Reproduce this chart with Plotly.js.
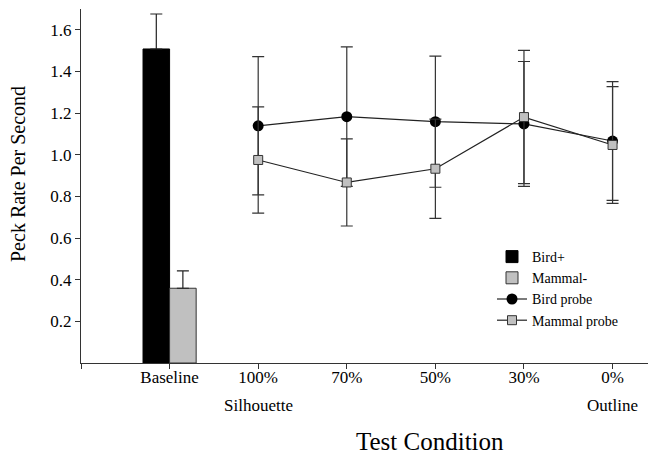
<!DOCTYPE html>
<html>
<head>
<meta charset="utf-8">
<script src="https://cdn.plot.ly/plotly-3.0.1.min.js"></script>
<style>html,body{margin:0;padding:0;background:#fff;}#chart{width:648px;height:454px;}</style>
</head>
<body>
<div id="chart"></div>
<script>
// Data
const categories = ["Baseline", "100%", "70%", "50%", "30%", "0%"];
const subLabels = {"100%": "Silhouette", "0%": "Outline"};

const baselineCategory = "Baseline";
const birdPlusValue = [1.508];
const birdPlusErr = [0.168];
const mammalMinusValue = [0.359];
const mammalMinusErr = [0.083];

const probeCategories = ["100%", "70%", "50%", "30%", "0%"];
const birdProbe = [1.139, 1.183, 1.159, 1.148, 1.066];
const birdProbeErr = [0.332, 0.335, 0.315, 0.300, 0.285];
const mammalProbe = [0.975, 0.867, 0.933, 1.181, 1.047];
const mammalProbeErr = [0.255, 0.209, 0.238, 0.320, 0.280];

const yTicks = [0.2, 0.4, 0.6, 0.8, 1.0, 1.2, 1.4, 1.6];

const pos = c => categories.indexOf(c);
const font = '"Liberation Serif", "Times New Roman", serif';

const traces = [
  {
    type: "bar", name: "Bird+", x: [pos(baselineCategory)], y: birdPlusValue,
    width: 0.3, offset: -0.3,
    marker: {color: "#000000", line: {color: "#000000", width: 1}},
    error_y: {type: "data", array: birdPlusErr, symmetric: false, arrayminus: [0], color: "#222", thickness: 1.2, width: 6}
  },
  {
    type: "bar", name: "Mammal-", x: [pos(baselineCategory)], y: mammalMinusValue,
    width: 0.3, offset: 0,
    marker: {color: "#c0c0c0", line: {color: "#333333", width: 1}},
    error_y: {type: "data", array: mammalMinusErr, symmetric: false, arrayminus: [0], color: "#222", thickness: 1.2, width: 6}
  },
  {
    type: "scatter", mode: "lines+markers", name: "Bird probe",
    x: probeCategories.map(pos), y: birdProbe,
    line: {color: "#222", width: 1.2},
    marker: {symbol: "circle", size: 11, color: "#000"},
    error_y: {type: "data", array: birdProbeErr, color: "#333", thickness: 1.2, width: 6}
  },
  {
    type: "scatter", mode: "lines+markers", name: "Mammal probe",
    x: probeCategories.map(pos), y: mammalProbe,
    line: {color: "#222", width: 1.2},
    marker: {symbol: "square", size: 9, color: "#c0c0c0", line: {color: "#333", width: 1}},
    error_y: {type: "data", array: mammalProbeErr, color: "#333", thickness: 1.2, width: 6}
  }
];

const tickvals = [-1].concat(categories.map((c, i) => i));
const ticktext = [""].concat(categories);

const L = 81, T = 9, W = 567, H = 354;

const annotations = Object.keys(subLabels).map(c => ({
  x: pos(c), y: 0, xref: "x", yref: "y", text: subLabels[c], showarrow: false,
  xanchor: "center", yanchor: "middle",
  yshift: -42, font: {family: font, size: 17, color: "#000"}
}));
annotations.push({
  x: (430 - L) / W, xref: "paper", y: (H + T - 441) / H, yref: "paper",
  xanchor: "center", yanchor: "middle",
  text: "Test Condition", showarrow: false,
  font: {family: font, size: 25, color: "#000"}
});
annotations.push({
  x: (18 - L) / W, xref: "paper", y: (H + T - 174) / H, yref: "paper",
  xanchor: "center", yanchor: "middle",
  text: "Peck Rate Per Second", showarrow: false, textangle: -90,
  font: {family: font, size: 20, color: "#000"}
});

const layout = {
  width: 648, height: 454,
  margin: {l: L, r: 0, t: T, b: 454 - T - H},
  paper_bgcolor: "#fff", plot_bgcolor: "#fff",
  font: {family: font, size: 17, color: "#000"},
  showlegend: true,
  legend: {
    x: (492 - L) / W, y: (H + T - 241) / H, xanchor: "left", yanchor: "top",
    font: {family: font, size: 14, color: "#000"}, bgcolor: "rgba(0,0,0,0)",
    tracegroupgap: 0, itemwidth: 30
  },
  xaxis: {
    range: [-1, 5.4], tickmode: "array", tickvals: tickvals, ticktext: ticktext,
    showgrid: false, zeroline: false, showline: true, linecolor: "#333", linewidth: 1,
    ticks: "outside", ticklen: 5, tickcolor: "#333", ticklabelstandoff: -6,
    tickfont: {family: font, size: 17}
  },
  yaxis: {
    range: [0, 1.7], tickmode: "array", tickvals: yTicks,
    ticktext: yTicks.map(v => v.toFixed(1)),
    showgrid: false, zeroline: false, showline: true, linecolor: "#333", linewidth: 1,
    ticks: "outside", ticklen: 5, tickcolor: "#333", tickfont: {family: font, size: 17}
  },
  annotations: annotations
};

Plotly.newPlot("chart", traces, layout, {staticPlot: true, displayModeBar: false});
</script>
</body>
</html>
